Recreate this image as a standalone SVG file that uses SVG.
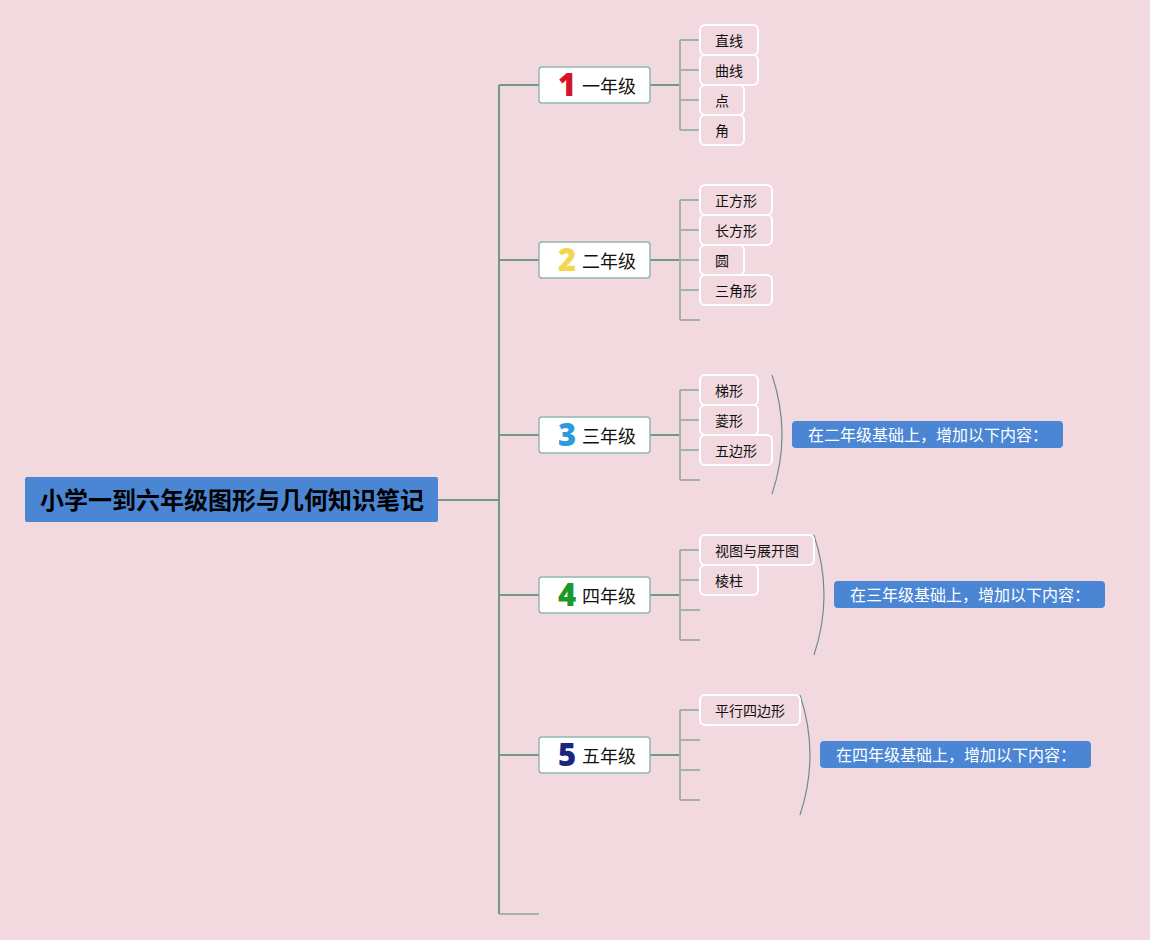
<svg xmlns="http://www.w3.org/2000/svg" width="1150" height="940" viewBox="0 0 1150 940">
<style>
.bg{fill:#f2d9e0}
.main{stroke:#6f9a8a;stroke-width:2;fill:none}
.sub{stroke:#a3b2ab;stroke-width:2;fill:none}
.brk{stroke:#6f8f84;stroke-width:1.2;fill:none}
.grade rect{fill:#ffffff;stroke:#93b7a9;stroke-width:1.5}
.grade text.t{font-family:"Noto Sans CJK SC","Noto Sans",sans-serif;font-size:18px;fill:#111}
.num{font-family:"Noto Sans","Liberation Sans",sans-serif;font-size:31px;font-weight:900}
.leaf rect{fill:#f2d9e0;stroke:#ffffff;stroke-width:2}
.leaf text{font-family:"Noto Sans CJK SC","Noto Sans",sans-serif;font-size:14px;fill:#111}
.call rect{fill:#4a86d4}
.call text{font-family:"Noto Sans CJK SC","Noto Sans",sans-serif;font-size:16px;fill:#ffffff}
</style>
<rect class="bg" x="0" y="0" width="1150" height="940"/>
<g id="connectors">
<path class="main" d="M438,500 H499 M499,85 V914"/>
<path class="main" d="M499,85 H539 M499,260 H539 M499,435 H539 M499,595 H539 M499,755 H539"/>
<path class="sub" d="M499,914 H539"/>
<path class="main" d="M650,85 H680 M650,260 H680 M650,435 H680 M650,595 H680 M650,755 H680"/>
<path class="sub" d="M680,40 V130 M680,40 H700 M680,70 H700 M680,100 H700 M680,130 H700"/>
<path class="sub" d="M680,200 V320 M680,200 H700 M680,230 H700 M680,260 H700 M680,290 H700 M680,320 H700"/>
<path class="sub" d="M680,390 V480 M680,390 H700 M680,420 H700 M680,450 H700 M680,480 H700"/>
<path class="sub" d="M680,550 V640 M680,550 H700 M680,580 H700 M680,610 H700 M680,640 H700"/>
<path class="sub" d="M680,710 V800 M680,710 H700 M680,740 H700 M680,770 H700 M680,800 H700"/>
<path class="brk" d="M772,375 Q792,435 772,494"/>
<path class="brk" d="M814,535 Q834,595 814,655"/>
<path class="brk" d="M800,695 Q820,755 800,815"/>
</g>
<g id="root">
<rect x="25" y="477" width="413" height="45" rx="2" fill="#4a86d4"/>
<text x="232" y="509" text-anchor="middle" font-family="Noto Sans CJK SC, Noto Sans, sans-serif" font-size="24" font-weight="bold" fill="#000">小学一到六年级图形与几何知识笔记</text>
</g>
<g id="g1" class="grade"><rect x="539" y="67" width="111" height="36" rx="3"/><text class="num" x="567" y="96" text-anchor="middle" fill="#d3152d">1</text><text class="t" x="582" y="93">一年级</text></g>
<g id="g2" class="grade"><rect x="539" y="242" width="111" height="36" rx="3"/><text class="num" x="567" y="271" text-anchor="middle" fill="#f2d84e">2</text><text class="t" x="582" y="268">二年级</text></g>
<g id="g3" class="grade"><rect x="539" y="417" width="111" height="36" rx="3"/><text class="num" x="567" y="446" text-anchor="middle" fill="#2b9bd9">3</text><text class="t" x="582" y="443">三年级</text></g>
<g id="g4" class="grade"><rect x="539" y="577" width="111" height="36" rx="3"/><text class="num" x="567" y="606" text-anchor="middle" fill="#1b9a2b">4</text><text class="t" x="582" y="603">四年级</text></g>
<g id="g5" class="grade"><rect x="539" y="737" width="111" height="36" rx="3"/><text class="num" x="567" y="766" text-anchor="middle" fill="#1c2580">5</text><text class="t" x="582" y="763">五年级</text></g>
<g id="l1a" class="leaf"><rect x="700" y="25" width="58" height="30" rx="5"/><text x="715" y="46">直线</text></g>
<g id="l1b" class="leaf"><rect x="700" y="55" width="58" height="30" rx="5"/><text x="715" y="76">曲线</text></g>
<g id="l1c" class="leaf"><rect x="700" y="85" width="44" height="30" rx="5"/><text x="715" y="106">点</text></g>
<g id="l1d" class="leaf"><rect x="700" y="115" width="44" height="30" rx="5"/><text x="715" y="136">角</text></g>
<g id="l2a" class="leaf"><rect x="700" y="185" width="72" height="30" rx="5"/><text x="715" y="206">正方形</text></g>
<g id="l2b" class="leaf"><rect x="700" y="215" width="72" height="30" rx="5"/><text x="715" y="236">长方形</text></g>
<g id="l2c" class="leaf"><rect x="700" y="245" width="44" height="30" rx="5"/><text x="715" y="266">圆</text></g>
<g id="l2d" class="leaf"><rect x="700" y="275" width="72" height="30" rx="5"/><text x="715" y="296">三角形</text></g>
<g id="l3a" class="leaf"><rect x="700" y="375" width="58" height="30" rx="5"/><text x="715" y="396">梯形</text></g>
<g id="l3b" class="leaf"><rect x="700" y="405" width="58" height="30" rx="5"/><text x="715" y="426">菱形</text></g>
<g id="l3c" class="leaf"><rect x="700" y="435" width="72" height="30" rx="5"/><text x="715" y="456">五边形</text></g>
<g id="l4a" class="leaf"><rect x="700" y="535" width="114" height="30" rx="5"/><text x="715" y="556">视图与展开图</text></g>
<g id="l4b" class="leaf"><rect x="700" y="565" width="58" height="30" rx="5"/><text x="715" y="586">棱柱</text></g>
<g id="l5a" class="leaf"><rect x="700" y="695" width="100" height="30" rx="5"/><text x="715" y="716">平行四边形</text></g>
<g id="c3" class="call"><rect x="792" y="421" width="271" height="27" rx="4"/><text x="808" y="441">在二年级基础上，增加以下内容：</text></g>
<g id="c4" class="call"><rect x="834" y="581" width="271" height="27" rx="4"/><text x="850" y="601">在三年级基础上，增加以下内容：</text></g>
<g id="c5" class="call"><rect x="820" y="741" width="271" height="27" rx="4"/><text x="836" y="761">在四年级基础上，增加以下内容：</text></g>
</svg>
